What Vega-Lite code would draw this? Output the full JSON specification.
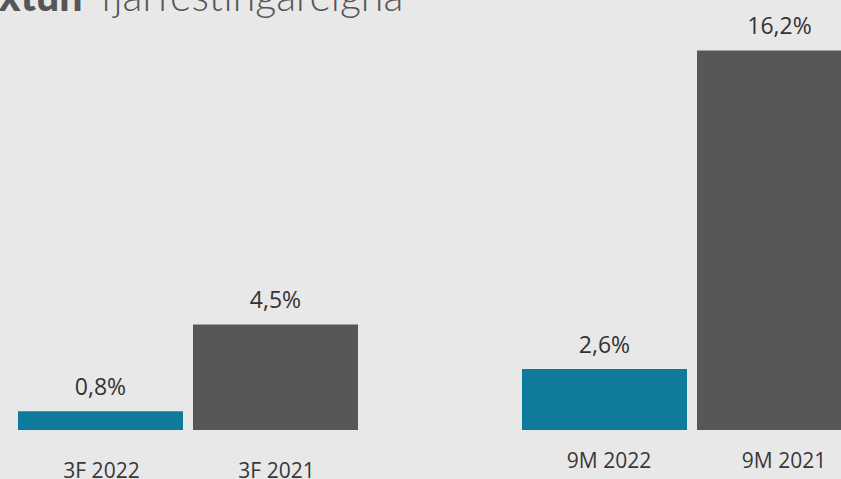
{
  "$schema": "https://vega.github.io/schema/vega-lite/v6.json",
  "width": 841,
  "height": 410,
  "autosize": {"type": "none"},
  "padding": {"left": 0, "top": 20, "right": 0, "bottom": 49},
  "background": "#e8e8e8",
  "config": {
    "view": {"stroke": null},
    "locale": {"number": {"decimal": ",", "thousands": ".", "grouping": [3], "currency": ["", " kr."]}}
  },
  "data": {
    "values": [
      {"period": "3F", "year": "2022", "label": "3F 2022", "value": 0.008},
      {"period": "3F", "year": "2021", "label": "3F 2021", "value": 0.045},
      {"period": "9M", "year": "2022", "label": "9M 2022", "value": 0.026},
      {"period": "9M", "year": "2021", "label": "9M 2021", "value": 0.162}
    ]
  },
  "encoding": {
    "x": {
      "field": "period",
      "type": "nominal",
      "sort": ["3F", "9M"],
      "scale": {"range": [0, 880], "paddingInner": 0.3254, "paddingOuter": 0.0357},
      "axis": {
        "orient": "top",
        "labels": false,
        "ticks": false,
        "domain": false,
        "grid": false,
        "title": "Ávöxtun",
        "titleX": 82,
        "titleY": -10,
        "titleAlign": "right",
        "titleBaseline": "alphabetic",
        "titleAngle": 0,
        "titleFont": "Lato",
        "titleFontSize": 41,
        "titleFontWeight": 900,
        "titleColor": "#565656"
      }
    },
    "xOffset": {
      "field": "year",
      "type": "nominal",
      "sort": ["2022", "2021"],
      "scale": {"paddingInner": 0.05714, "paddingOuter": 0}
    }
  },
  "layer": [
    {
      "mark": {"type": "bar"},
      "encoding": {
        "y": {
          "field": "value",
          "type": "quantitative",
          "scale": {"domain": [0, 0.175], "nice": false, "zero": true},
          "axis": {
            "labels": false,
            "ticks": false,
            "domain": false,
            "grid": false,
            "title": "fjárfestingareigna",
            "titleX": 100,
            "titleY": -10,
            "titleAngle": 0,
            "titleAlign": "left",
            "titleBaseline": "alphabetic",
            "titleFont": "Lato",
            "titleFontSize": 41,
            "titleFontWeight": 300,
            "titleColor": "#565656"
          }
        },
        "color": {
          "field": "year",
          "type": "nominal",
          "scale": {"domain": ["2022", "2021"], "range": ["#0e7a9c", "#575757"]},
          "legend": null
        }
      }
    },
    {
      "mark": {"type": "text", "baseline": "alphabetic", "dy": -16.5, "font": "Open Sans", "fontSize": 23, "color": "#333333"},
      "encoding": {
        "y": {"field": "value", "type": "quantitative"},
        "text": {"field": "value", "type": "quantitative", "format": ".1%"}
      }
    },
    {
      "transform": [{"filter": "datum.period === '3F'"}],
      "mark": {"type": "text", "baseline": "alphabetic", "dy": 48, "dx": 1, "font": "Open Sans", "fontSize": 21, "color": "#383838"},
      "encoding": {
        "y": {"datum": 0, "type": "quantitative"},
        "text": {"field": "label", "type": "nominal"}
      }
    },
    {
      "transform": [{"filter": "datum.period === '9M'"}],
      "mark": {"type": "text", "baseline": "alphabetic", "dy": 38, "dx": 4.5, "font": "Open Sans", "fontSize": 21, "color": "#383838"},
      "encoding": {
        "y": {"datum": 0, "type": "quantitative"},
        "text": {"field": "label", "type": "nominal"}
      }
    }
  ]
}
